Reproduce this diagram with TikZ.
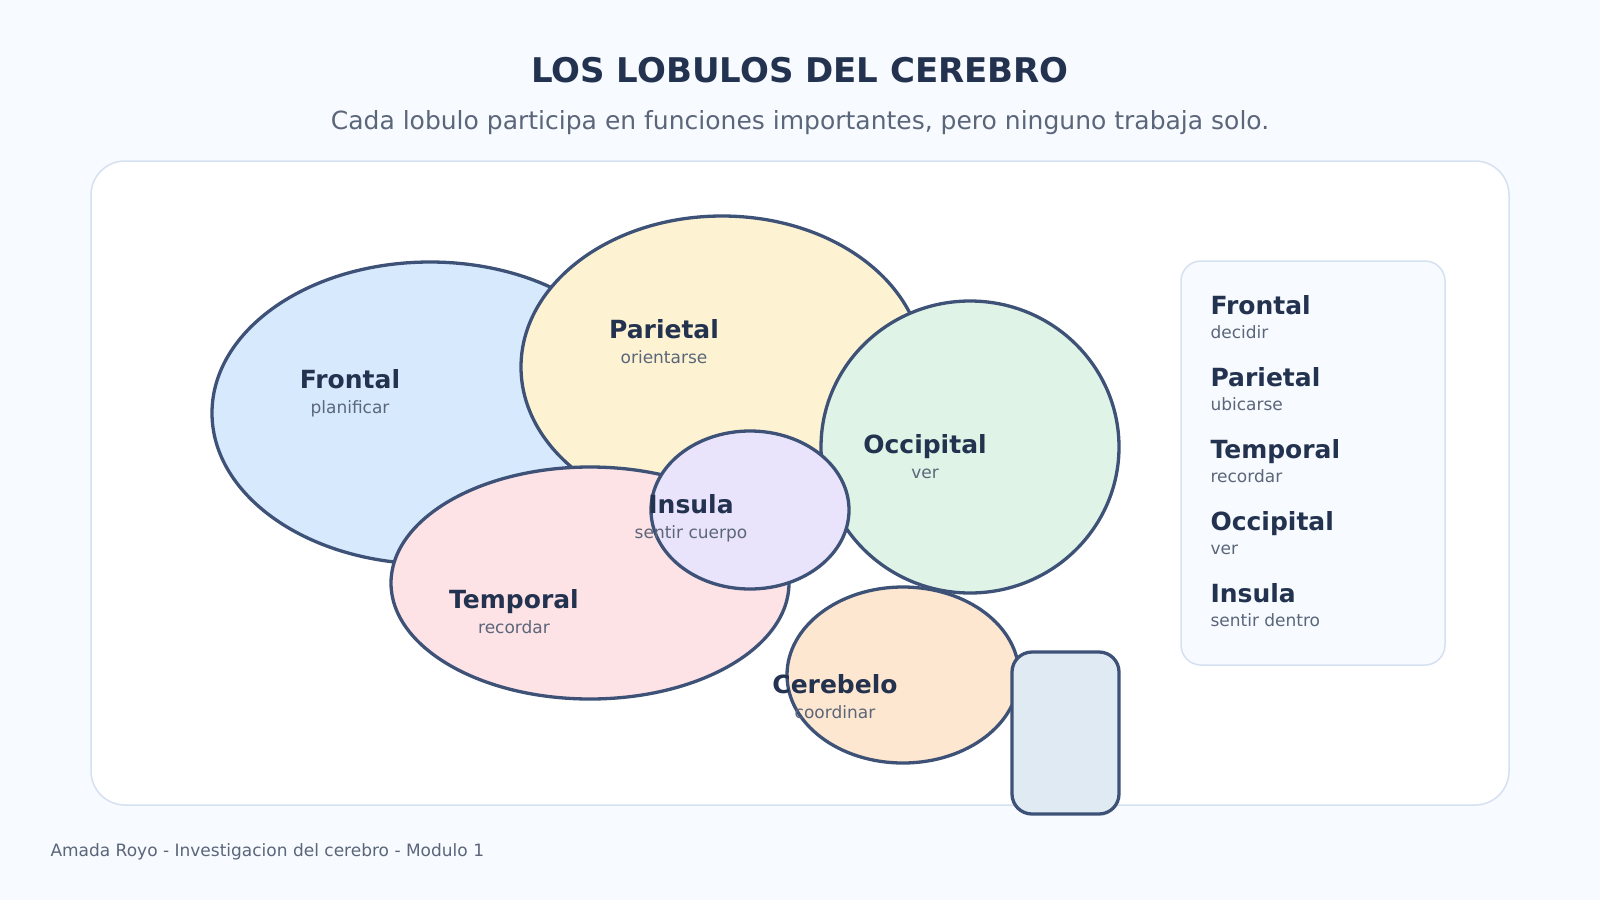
\documentclass[tikz,border=0pt]{standalone}
\usepackage{fontspec}
\setmainfont{DejaVu Sans}
\usetikzlibrary{shapes.geometric}

\definecolor{bgpage}{HTML}{F7FAFE}
\definecolor{panelline}{HTML}{D5E1F0}
\definecolor{lobeline}{HTML}{3E5278}
\definecolor{inkdark}{HTML}{22324F}
\definecolor{inkgray}{HTML}{5B667A}
\definecolor{frontalfill}{HTML}{D7EAFD}
\definecolor{parietalfill}{HTML}{FDF3D3}
\definecolor{occipitalfill}{HTML}{DFF3E6}
\definecolor{temporalfill}{HTML}{FDE2E6}
\definecolor{insulafill}{HTML}{E9E3FC}
\definecolor{cerebelofill}{HTML}{FEE7D0}
\definecolor{stemfill}{HTML}{E0EAF3}

\tikzset{
  lobe/.style={ellipse, draw=lobeline, line width=3.3pt, inner sep=0pt},
  lobename/.style={anchor=base, text=inkdark, font=\fontsize{25}{29}\selectfont\bfseries},
  lobeuse/.style={anchor=base, text=inkgray, font=\fontsize{17}{20}\selectfont},
  keyname/.style={anchor=base west, text=inkdark, font=\fontsize{25}{29}\selectfont\bfseries},
  keyuse/.style={anchor=base west, text=inkgray, font=\fontsize{17}{20}\selectfont},
}

\begin{document}
\begin{tikzpicture}[x=1pt, y=-1pt]
    % page and panel
    \useasboundingbox (0,0) rectangle (1600,900);
    \fill[bgpage] (0,0) rectangle (1600,900);
    \filldraw[fill=white, draw=panelline, line width=1.5pt, rounded corners=34pt] (91,161) rectangle (1509,805);
    % heading
    \node[anchor=base, text=inkdark, font=\fontsize{34}{40}\selectfont\bfseries] (title) at (800,82) {LOS LOBULOS DEL CEREBRO};
    \node[anchor=base, text=inkgray, font=\fontsize{25}{29}\selectfont] (subtitle) at (800,129) {Cada lobulo participa en funciones importantes, pero ninguno trabaja solo.};
    % lobes
    \node[lobe, fill=frontalfill, minimum width=436pt, minimum height=302pt] (frontal) at (430,413) {};
    \node[lobe, fill=parietalfill, minimum width=402pt, minimum height=302pt] (parietal) at (722,367) {};
    \node[lobe, fill=occipitalfill, minimum width=298pt, minimum height=292pt] (occipital) at (970,447) {};
    \node[lobe, fill=temporalfill, minimum width=398pt, minimum height=232pt] (temporal) at (590,583) {};
    \node[lobe, fill=insulafill, minimum width=198pt, minimum height=158pt] (insula) at (750,510) {};
    \node[lobe, fill=cerebelofill, minimum width=232pt, minimum height=176pt] (cerebelo) at (903,675) {};
    \filldraw[fill=stemfill, draw=lobeline, line width=3.3pt, rounded corners=20pt] (1012,652) rectangle (1119,814);
    % lobe labels
    \node[lobename] (frontalname) at (350,388) {Frontal};
    \node[lobeuse] (frontaluse) at (350,413) {planificar};
    \node[lobename] (parietalname) at (664,338) {Parietal};
    \node[lobeuse] (parietaluse) at (664,363) {orientarse};
    \node[lobename] (occipitalname) at (925,453) {Occipital};
    \node[lobeuse] (occipitaluse) at (925,478) {ver};
    \node[lobename] (insulaname) at (691,513) {Insula};
    \node[lobeuse] (insulause) at (691,538) {sentir cuerpo};
    \node[lobename] (temporalname) at (514,608) {Temporal};
    \node[lobeuse] (temporaluse) at (514,633) {recordar};
    \node[lobename] (cerebeloname) at (835,693) {Cerebelo};
    \node[lobeuse] (cerebelouse) at (835,718) {coordinar};
    % key box
    \filldraw[fill=bgpage, draw=panelline, line width=1.5pt, rounded corners=20pt] (1181,261) rectangle (1445,665);
    \node[keyname] (keyfrontal) at (1207,314) {Frontal};
    \node[keyuse] (keyfrontaluse) at (1207,338) {decidir};
    \node[keyname] (keyparietal) at (1207,386) {Parietal};
    \node[keyuse] (keyparietaluse) at (1207,410) {ubicarse};
    \node[keyname] (keytemporal) at (1207,458) {Temporal};
    \node[keyuse] (keytemporaluse) at (1207,482) {recordar};
    \node[keyname] (keyoccipital) at (1207,530) {Occipital};
    \node[keyuse] (keyoccipitaluse) at (1207,554) {ver};
    \node[keyname] (keyinsula) at (1207,602) {Insula};
    \node[keyuse] (keyinsulause) at (1207,626) {sentir dentro};
    % footer
    \node[anchor=base west, text=inkgray, font=\fontsize{17}{20}\selectfont] (footer) at (47,856) {Amada Royo - Investigacion del cerebro - Modulo 1};
\end{tikzpicture}
\end{document}
